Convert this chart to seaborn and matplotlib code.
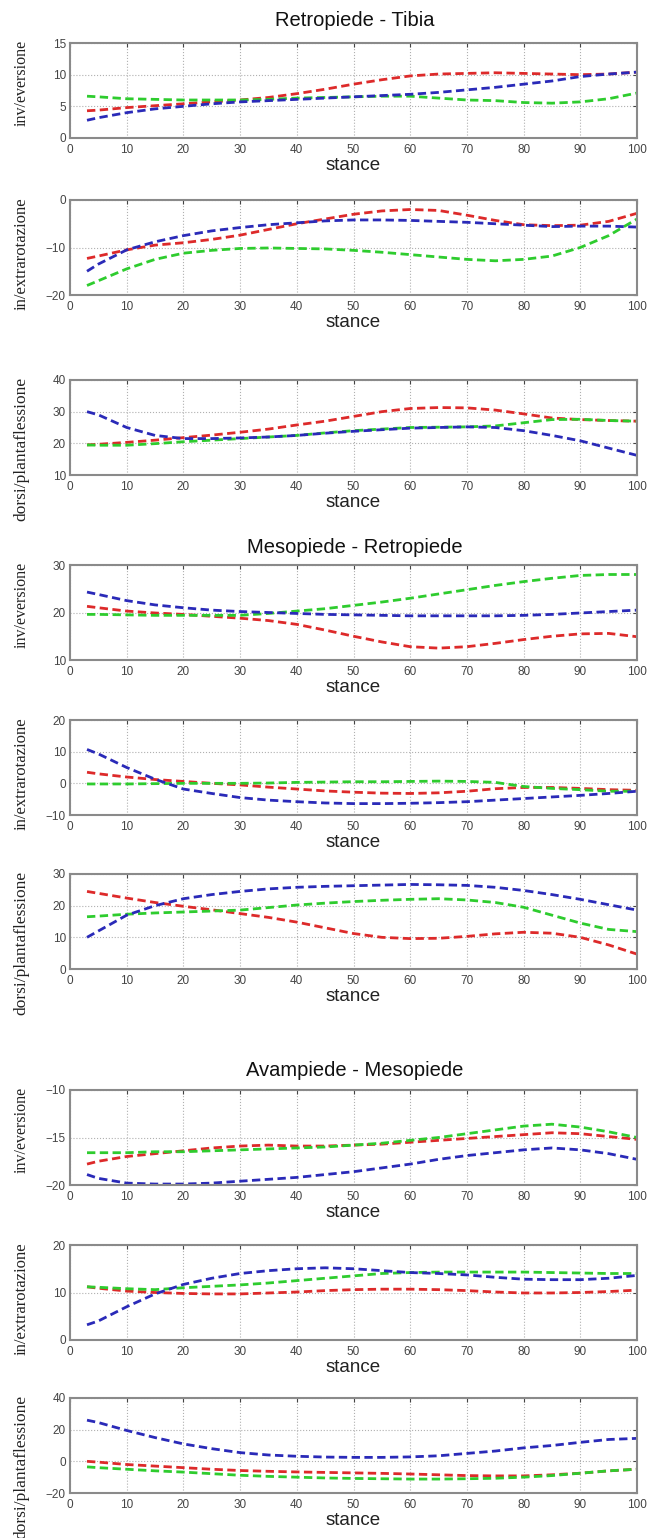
import seaborn as sns
from matplotlib import pyplot as plt
import pandas as pd

# percent of stance phase, shared by every curve
stance = [3, 5, 10, 15, 20, 25, 30, 35, 40, 45, 50, 55, 60, 65, 70, 75, 80, 85, 90, 95, 100]

# Retropiede - Tibia
rt_inv_red = [4.3, 4.4, 4.8, 5.1, 5.4, 5.7, 6.0, 6.4, 7.0, 7.7, 8.5, 9.2, 9.8, 10.1, 10.2, 10.3, 10.2, 10.1, 10.0, 10.1, 10.4]
rt_inv_green = [6.6, 6.5, 6.2, 6.1, 6.0, 6.0, 6.0, 6.1, 6.3, 6.4, 6.5, 6.6, 6.6, 6.3, 6.0, 5.9, 5.6, 5.5, 5.7, 6.2, 7.1]
rt_inv_blue = [2.8, 3.2, 4.0, 4.6, 5.0, 5.4, 5.7, 5.9, 6.1, 6.3, 6.5, 6.7, 6.9, 7.2, 7.6, 8.0, 8.5, 9.0, 9.7, 10.1, 10.4]

rt_rot_red = [-12.3, -11.8, -10.5, -9.5, -9.0, -8.3, -7.4, -6.2, -5.0, -4.0, -3.0, -2.3, -2.0, -2.2, -3.2, -4.3, -5.2, -5.4, -5.3, -4.5, -2.8]
rt_rot_green = [-18.0, -17.0, -14.5, -12.5, -11.2, -10.6, -10.2, -10.1, -10.2, -10.3, -10.6, -11.0, -11.5, -12.0, -12.5, -12.8, -12.5, -11.8, -10.0, -7.5, -4.0]
rt_rot_blue = [-15.0, -13.5, -10.5, -8.8, -7.5, -6.5, -5.8, -5.2, -4.8, -4.4, -4.2, -4.2, -4.3, -4.5, -4.7, -5.0, -5.3, -5.6, -5.5, -5.5, -5.7]

rt_fl_red = [19.5, 19.7, 20.3, 21.0, 21.8, 22.6, 23.5, 24.5, 25.8, 27.0, 28.5, 30.0, 31.0, 31.3, 31.2, 30.5, 29.3, 28.0, 27.5, 27.2, 27.0]
rt_fl_green = [19.5, 19.4, 19.4, 19.9, 20.5, 21.0, 21.5, 22.0, 22.5, 23.3, 24.0, 24.5, 25.0, 25.1, 25.2, 25.5, 26.5, 27.5, 27.6, 27.2, 27.0]
rt_fl_blue = [30.0, 29.0, 25.0, 22.5, 21.5, 21.5, 21.7, 22.0, 22.5, 23.2, 23.8, 24.3, 24.8, 25.0, 25.2, 25.0, 24.0, 22.5, 20.8, 18.5, 16.2]

# Mesopiede - Retropiede
mr_inv_red = [21.3, 21.0, 20.3, 19.9, 19.6, 19.2, 18.8, 18.3, 17.5, 16.3, 15.0, 13.8, 12.8, 12.5, 12.8, 13.5, 14.3, 15.0, 15.5, 15.6, 14.9]
mr_inv_green = [19.6, 19.6, 19.5, 19.4, 19.4, 19.4, 19.4, 19.8, 20.3, 20.8, 21.5, 22.2, 23.0, 23.9, 24.8, 25.7, 26.5, 27.2, 27.8, 28.0, 28.0]
mr_inv_blue = [24.3, 23.8, 22.5, 21.6, 21.0, 20.5, 20.2, 20.0, 19.8, 19.6, 19.5, 19.4, 19.3, 19.3, 19.3, 19.3, 19.4, 19.6, 19.9, 20.2, 20.5]

mr_rot_red = [3.5, 3.0, 2.0, 1.2, 0.6, 0.0, -0.5, -1.2, -1.8, -2.4, -2.8, -3.1, -3.2, -3.0, -2.5, -1.7, -1.3, -1.3, -1.6, -2.0, -2.2]
mr_rot_green = [-0.2, -0.2, -0.2, -0.1, 0.0, 0.0, 0.0, 0.1, 0.3, 0.4, 0.5, 0.5, 0.6, 0.7, 0.6, 0.3, -1.0, -1.6, -2.0, -2.5, -2.5]
mr_rot_blue = [10.7, 9.3, 5.0, 1.3, -1.8, -3.2, -4.5, -5.3, -5.8, -6.2, -6.4, -6.4, -6.3, -6.1, -5.8, -5.3, -4.8, -4.3, -3.8, -3.2, -2.5]

mr_fl_red = [24.5, 23.9, 22.4, 21.0, 19.8, 18.7, 17.5, 16.3, 14.8, 13.0, 11.2, 10.0, 9.6, 9.7, 10.3, 11.1, 11.6, 11.3, 10.0, 7.6, 4.7]
mr_fl_green = [16.5, 16.7, 17.3, 17.7, 18.0, 18.3, 18.6, 19.4, 20.2, 20.8, 21.3, 21.7, 22.0, 22.2, 21.8, 21.0, 19.5, 17.0, 14.5, 12.5, 11.8]
mr_fl_blue = [10.0, 12.0, 17.0, 20.0, 22.2, 23.5, 24.5, 25.3, 25.8, 26.1, 26.3, 26.5, 26.7, 26.6, 26.4, 25.8, 24.8, 23.5, 22.0, 20.3, 18.6]

# Avampiede - Mesopiede
am_inv_red = [-17.8, -17.5, -17.0, -16.7, -16.4, -16.1, -15.9, -15.8, -15.9, -15.9, -15.8, -15.7, -15.5, -15.3, -15.1, -14.9, -14.7, -14.5, -14.6, -14.9, -15.2]
am_inv_green = [-16.6, -16.6, -16.6, -16.5, -16.5, -16.4, -16.3, -16.2, -16.1, -16.0, -15.8, -15.6, -15.3, -15.0, -14.6, -14.2, -13.8, -13.6, -13.9, -14.4, -15.0]
am_inv_blue = [-18.9, -19.3, -19.8, -19.9, -19.9, -19.8, -19.6, -19.4, -19.2, -18.9, -18.6, -18.2, -17.8, -17.3, -16.9, -16.6, -16.3, -16.1, -16.3, -16.7, -17.3]

am_rot_red = [11.2, 10.9, 10.3, 10.0, 9.8, 9.7, 9.7, 9.9, 10.1, 10.4, 10.6, 10.7, 10.7, 10.6, 10.4, 10.1, 9.9, 9.9, 10.0, 10.2, 10.5]
am_rot_green = [11.2, 11.1, 10.8, 10.6, 11.0, 11.3, 11.6, 12.0, 12.5, 13.0, 13.5, 14.0, 14.2, 14.3, 14.3, 14.3, 14.3, 14.2, 14.1, 14.0, 14.0]
am_rot_blue = [3.2, 4.0, 7.0, 9.7, 11.7, 13.0, 14.0, 14.6, 15.0, 15.2, 15.0, 14.6, 14.2, 14.0, 13.7, 13.2, 12.8, 12.7, 12.7, 13.0, 13.6]

am_fl_red = [0.0, -0.5, -2.0, -3.0, -4.0, -5.0, -5.8, -6.3, -6.7, -7.0, -7.3, -7.6, -8.0, -8.5, -9.0, -9.2, -9.2, -8.5, -7.5, -6.0, -5.0]
am_fl_green = [-3.5, -4.0, -5.0, -6.0, -6.8, -7.8, -8.8, -9.5, -10.0, -10.5, -10.8, -11.0, -11.2, -11.2, -11.0, -10.7, -10.0, -9.0, -7.5, -6.0, -5.0]
am_fl_blue = [26.0, 24.5, 19.5, 15.0, 11.0, 8.0, 5.5, 4.0, 3.2, 2.7, 2.5, 2.5, 2.8, 3.5, 5.0, 6.5, 8.5, 10.0, 12.0, 13.8, 14.5]

titles = ["Retropiede - Tibia", "Mesopiede - Retropiede", "Avampiede - Mesopiede"]
ylabels = ["inv/eversione", "in/extrarotazione", "dorsi/plantaflessione"]
ylabel_sizes = [11.5, 12, 12.5]

panels = [
    (rt_inv_red, rt_inv_green, rt_inv_blue, (0, 15), [0, 5, 10, 15]),
    (rt_rot_red, rt_rot_green, rt_rot_blue, (-20, 0), [-20, -10, 0]),
    (rt_fl_red, rt_fl_green, rt_fl_blue, (10, 40), [10, 20, 30, 40]),
    (mr_inv_red, mr_inv_green, mr_inv_blue, (10, 30), [10, 20, 30]),
    (mr_rot_red, mr_rot_green, mr_rot_blue, (-10, 20), [-10, 0, 10, 20]),
    (mr_fl_red, mr_fl_green, mr_fl_blue, (0, 30), [0, 10, 20, 30]),
    (am_inv_red, am_inv_green, am_inv_blue, (-20, -10), [-20, -15, -10]),
    (am_rot_red, am_rot_green, am_rot_blue, (0, 20), [0, 10, 20]),
    (am_fl_red, am_fl_green, am_fl_blue, (-20, 40), [-20, 0, 20, 40]),
]

sns.set_style("white")
plt.rcParams['font.family'] = ['Liberation Sans', 'DejaVu Sans']

W, H = 648, 1538
fig = plt.figure(figsize=(W / 100, H / 100), dpi=100)

# pixel tops of each axes box
tops = [43, 200, 380, 565, 720, 874, 1090, 1245, 1398]
title_y = [20, 548, 1070]
ax_left, ax_w, ax_h = 70, 567, 95

for i, (red, green, blue, ylim, yticks) in enumerate(panels):
    ax = fig.add_axes([ax_left / W, 1 - (tops[i] + ax_h) / H, ax_w / W, ax_h / H])
    df = pd.DataFrame({"stance": stance, "red": red, "green": green, "blue": blue})
    for col, c in [("red", "#dd2a2a"), ("green", "#2ecc2e"), ("blue", "#2a2ab8")]:
        sns.lineplot(data=df, x="stance", y=col, color=c, linestyle="--",
                     dashes=False, linewidth=2, ax=ax)
    for line in ax.get_lines():
        line.set_dashes([3, 1.6])
    ax.set_xlim(0, 100)
    ax.set_ylim(*ylim)
    ax.set_xticks(range(0, 101, 10))
    ax.set_yticks(yticks)
    ax.grid(True, linestyle=":", color="#b0b0b0", linewidth=0.8)
    for s in ax.spines.values():
        s.set_color("#8a8a8a")
        s.set_linewidth(1.5)
    ax.tick_params(direction="in", length=3, labelsize=8.5, colors="#444444",
                   top=True, right=True)
    ax.tick_params(axis="x", pad=4)
    ax.tick_params(axis="y", pad=3)
    ax.set_xlabel("stance", fontsize=13.5, color="#222222")
    ax.xaxis.set_label_coords(0.5, -0.2)
    ax.set_ylabel("")
    # ylabel hangs down from the top of the box, as in the original figure
    ax.text(-0.085, 1.03, ylabels[i % 3], transform=ax.transAxes, rotation=90,
            ha="center", va="top", fontsize=ylabel_sizes[i % 3],
            family="Liberation Serif", color="#222222")

for t, y in zip(titles, title_y):
    fig.text(355 / W, 1 - y / H, t, ha="center", va="center", fontsize=14.5, color="#111111")

fig.savefig("out.png", dpi=100, facecolor="white")
